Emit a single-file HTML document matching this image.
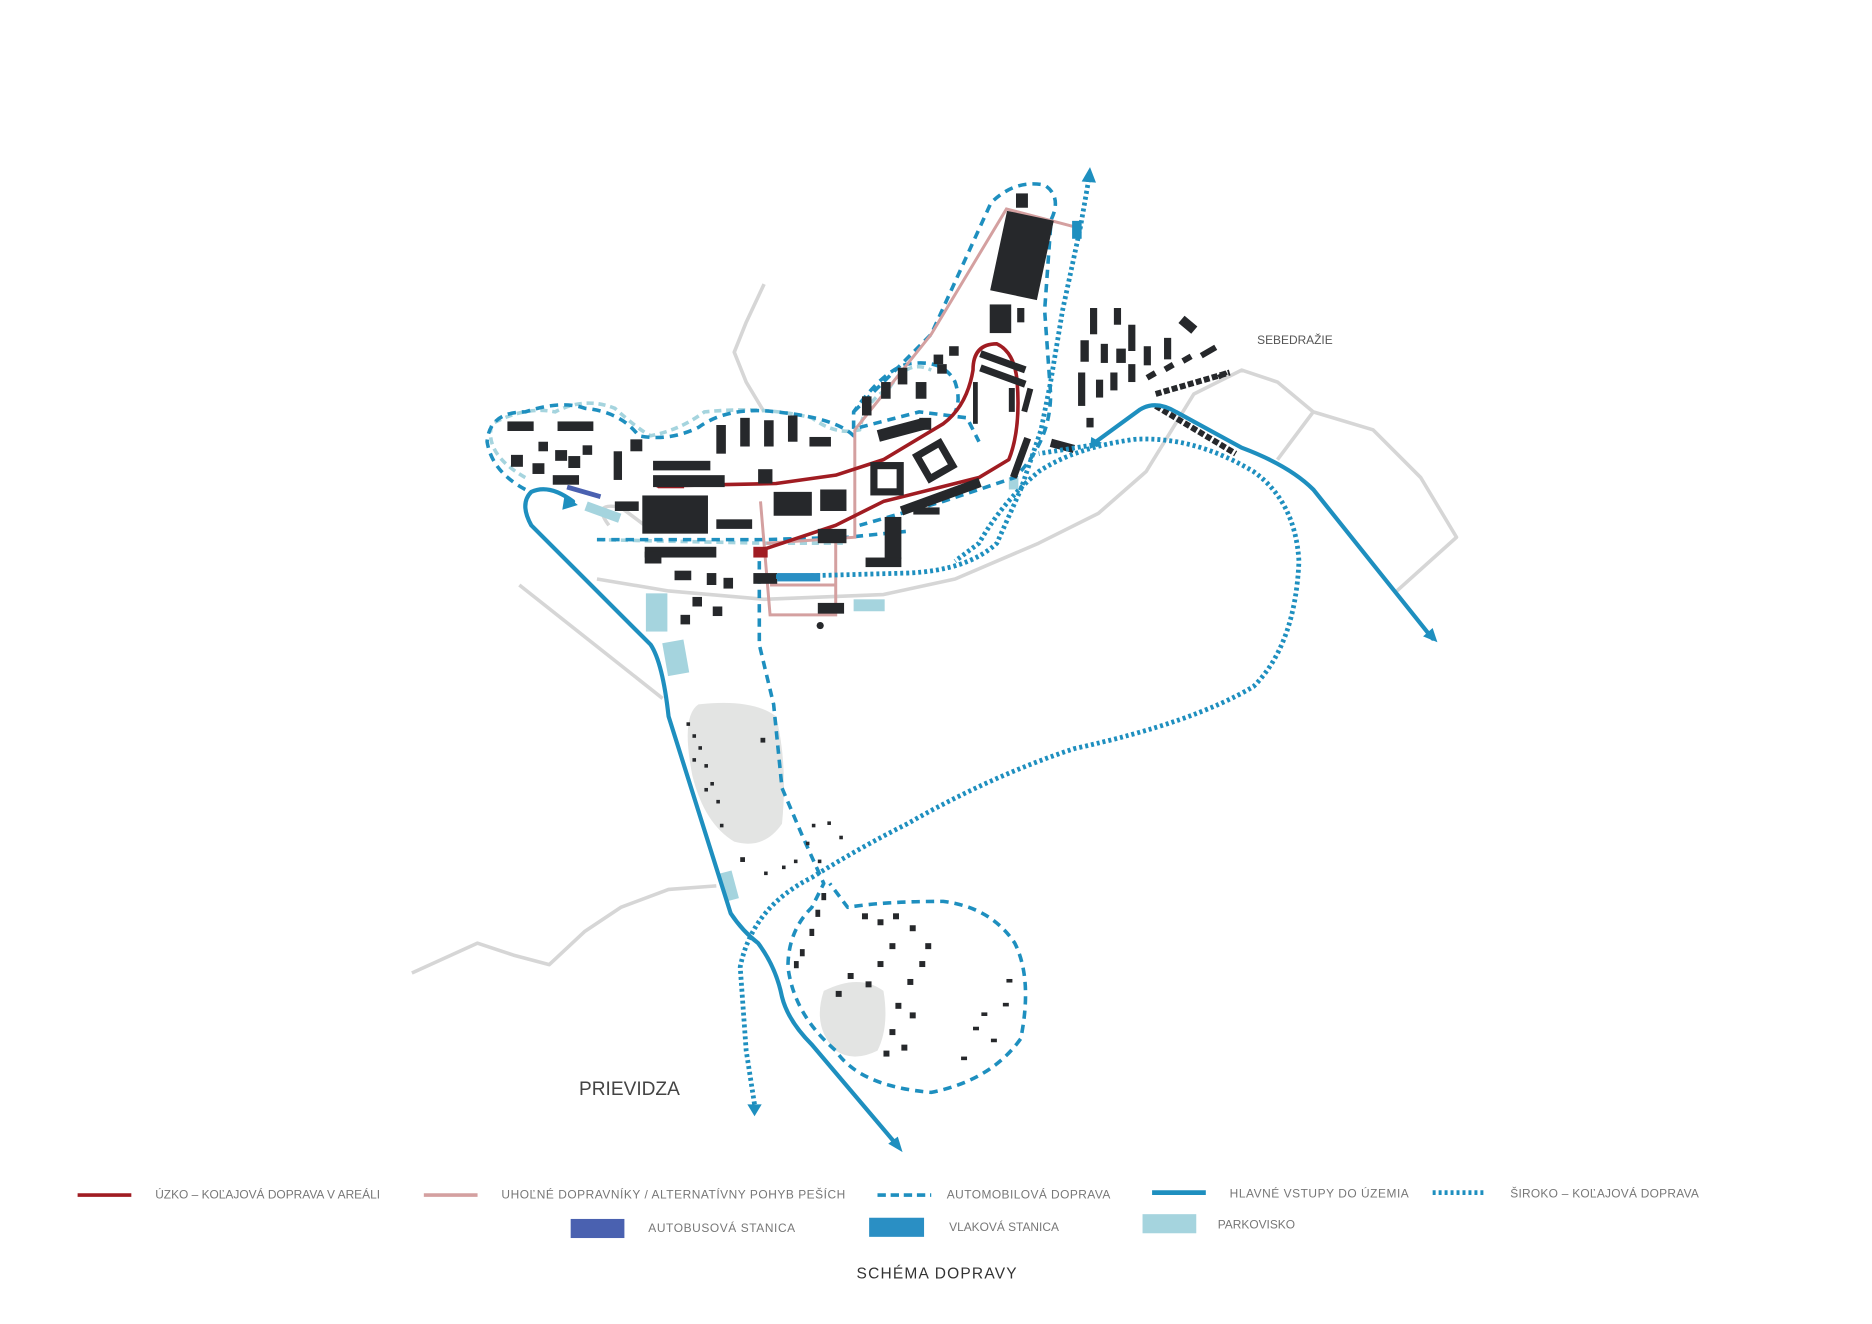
<!DOCTYPE html>
<html><head><meta charset="utf-8"><style>
html,body{margin:0;padding:0;background:#fff;}
svg{display:block;}
text{font-family:"Liberation Sans",sans-serif;}
</style></head><body>
<svg width="1872" height="1324" viewBox="0 0 1568 1109" xmlns="http://www.w3.org/2000/svg">
<rect width="1568" height="1109" fill="#fff"/>
<g fill="none" stroke="#d6d6d6" stroke-width="3" stroke-linejoin="round">
<path d="M345 815 L400 790 L430 800 L460 808 L490 780 L520 760 L560 745 L600 742"/>
<path d="M435 490 L555 585"/>
<path d="M500 485 L560 495 L640 502 L740 498 L800 485 L870 455 L920 430 L960 395 L1000 330 L1040 310 L1070 320 L1100 345 L1150 360 L1190 400 L1220 450 L1170 495"/>
<path d="M1070 385 L1100 345"/>
<path d="M640 238 L625 270 L615 295 L625 320 L640 345"/>
<path d="M510 440 Q495 420 520 425 L540 440"/>
</g>
<path d="M585 590 Q630 585 650 600 Q660 640 655 690 Q640 712 615 705 Q590 690 580 650 Q570 600 585 590Z" fill="#e3e4e3"/>
<path d="M690 830 Q720 815 740 830 Q745 860 735 880 Q715 890 700 880 Q680 860 690 830Z" fill="#e3e4e3"/>
<g fill="#a5d4de">
<rect x="541" y="497" width="18" height="32"/>
<rect x="557" y="537" width="18" height="28" transform="rotate(-10 566 551)"/>
<rect x="715" y="502" width="26" height="10"/>
<rect x="606" y="730" width="10" height="24" transform="rotate(-15 611 742)"/>
<rect x="490" y="425" width="30" height="8" transform="rotate(20 505 429)"/>
<rect x="845" y="400" width="8" height="10"/>
</g>
<g fill="none" stroke="#a5d4de" stroke-width="3" stroke-dasharray="6 4">
<path d="M440 400 Q405 380 412 355 Q440 340 465 345 Q490 332 515 342 Q535 360 545 365 Q570 360 590 345 Q640 340 680 350 Q700 365 720 360 Q725 335 745 325 Q760 300 780 310"/>
<path d="M500 452 L640 455 L710 455"/>
</g>
<g fill="none" stroke="#1e8fbf" stroke-width="3" stroke-dasharray="7 5" stroke-linejoin="round">
<path d="M440 410 Q412 395 408 370 Q410 345 440 345 Q470 335 490 342 Q520 345 535 365 Q560 370 585 358 Q610 340 650 345 Q700 350 715 365 L715 345 Q740 310 760 305 Q790 300 800 320 Q805 335 800 345"/>
<path d="M715 345 L780 280 L830 170 Q850 150 875 155 Q890 165 880 185"/>
<path d="M880 190 L875 260 L880 330 Q880 370 850 400 L790 420 L720 440"/>
<path d="M500 452 L640 452 L710 450 L760 445"/>
<path d="M720 358 L770 345 L810 350 L820 370"/>
<path d="M636 470 L636 540 L648 590 L655 660 L672 700 L690 740 L680 760 Q660 780 660 810 Q665 850 700 880 Q720 910 780 915 Q830 905 855 870 Q865 820 850 790 Q830 760 790 755 Q740 755 710 760 L695 740"/>
</g>
<g fill="none" stroke="#d4a0a0" stroke-width="2.5">
<path d="M716 360 L716 450 L642 455"/>
<path d="M716 360 L780 280 L843 175 L900 190"/>
<path d="M637 420 L645 515 L700 515 L700 450"/>
<path d="M645 490 L700 490"/>
</g>
<g fill="none" stroke="#a01c22" stroke-width="3" stroke-linejoin="round">
<path d="M550 407 L650 405 L700 398 L740 385 L790 355 Q810 340 815 310 Q815 288 835 288 Q850 295 852 320 Q855 360 845 385 L820 400 L740 420 L700 440 L640 460"/>
</g>
<rect x="551" y="402" width="22" height="7" fill="#a01c22"/>
<rect x="631" y="458" width="12" height="9" fill="#a01c22"/>
<g fill="#26282b">
<rect x="425" y="353" width="22" height="8"/><rect x="467" y="353" width="30" height="8"/>
<rect x="451" y="370" width="8" height="8"/><rect x="488" y="373" width="8" height="8"/>
<rect x="428" y="381" width="10" height="10"/><rect x="465" y="377" width="10" height="9"/>
<rect x="476" y="382" width="10" height="10"/><rect x="446" y="388" width="10" height="9"/>
<rect x="463" y="398" width="22" height="8"/><rect x="514" y="378" width="7" height="24"/>
<rect x="528" y="368" width="10" height="10"/>
<rect x="547" y="386" width="48" height="8"/><rect x="547" y="398" width="60" height="10"/>
<rect x="600" y="356" width="8" height="24"/><rect x="620" y="350" width="8" height="24"/>
<rect x="640" y="352" width="8" height="22"/><rect x="660" y="348" width="8" height="22"/>
<rect x="678" y="366" width="18" height="8"/>
<rect x="635" y="393" width="12" height="12"/>
<rect x="538" y="415" width="55" height="32"/>
<rect x="515" y="420" width="20" height="8"/>
<rect x="600" y="435" width="30" height="8"/>
<rect x="648" y="412" width="32" height="20"/><rect x="687" y="410" width="22" height="18"/>
<rect x="735" y="355" width="40" height="10" transform="rotate(-15 755 360)"/>
<rect x="722" y="332" width="8" height="16"/><rect x="738" y="320" width="8" height="14"/>
<rect x="752" y="308" width="8" height="14"/><rect x="767" y="320" width="9" height="14"/>
<rect x="782" y="297" width="8" height="8"/><rect x="795" y="290" width="8" height="8"/>
<rect x="785" y="305" width="8" height="8"/><rect x="770" y="350" width="10" height="10"/>
<rect x="732" y="390" width="22" height="22" fill="none" stroke="#26282b" stroke-width="6"/>
<rect x="772" y="375" width="22" height="22" fill="none" stroke="#26282b" stroke-width="6" transform="rotate(-30 783 386)"/>
<rect x="753" y="412" width="70" height="8" transform="rotate(-20 788 416)"/>
<rect x="765" y="425" width="22" height="6"/>
<rect x="741" y="433" width="14" height="35"/><rect x="725" y="467" width="30" height="8"/>
<rect x="685" y="443" width="24" height="12"/>
<rect x="540" y="458" width="60" height="9"/><rect x="540" y="462" width="14" height="10"/>
<rect x="565" y="478" width="14" height="8"/><rect x="592" y="480" width="8" height="10"/>
<rect x="606" y="484" width="8" height="9"/>
<rect x="631" y="480" width="20" height="9"/><rect x="685" y="505" width="22" height="9"/>
<rect x="580" y="500" width="8" height="8"/><rect x="597" y="508" width="8" height="8"/><rect x="570" y="515" width="8" height="8"/>
<rect x="851" y="162" width="10" height="12"/>
<rect x="836" y="180" width="40" height="68" transform="rotate(12 856 214)"/>
<rect x="829" y="255" width="18" height="24"/><rect x="852" y="258" width="6" height="12"/>
<rect x="820" y="300" width="40" height="6" transform="rotate(20 840 303)"/>
<rect x="820" y="312" width="40" height="6" transform="rotate(20 840 315)"/>
<rect x="815" y="320" width="4" height="35"/><rect x="845" y="325" width="5" height="20"/>
<rect x="852" y="366" width="6" height="35" transform="rotate(20 855 383)"/>
<rect x="858" y="325" width="5" height="20" transform="rotate(15 860 335)"/>
<rect x="880" y="370" width="20" height="7" transform="rotate(15 890 373)"/>
<rect x="913" y="258" width="6" height="22"/><rect x="933" y="258" width="6" height="14"/>
<rect x="945" y="272" width="6" height="22"/><rect x="905" y="285" width="7" height="18"/>
<rect x="922" y="288" width="6" height="16"/><rect x="935" y="292" width="8" height="12"/>
<rect x="958" y="290" width="6" height="16"/><rect x="975" y="283" width="6" height="18"/>
<rect x="988" y="268" width="14" height="8" transform="rotate(40 995 272)"/>
<rect x="903" y="312" width="6" height="28"/><rect x="918" y="318" width="6" height="15"/>
<rect x="930" y="312" width="6" height="15"/><rect x="945" y="305" width="6" height="15"/>
<rect x="910" y="350" width="6" height="8"/>
</g>
<g fill="#26282b">
<rect x="960" y="312" width="8" height="5" transform="rotate(-30 964 314)"/>
<rect x="975" y="305" width="8" height="5" transform="rotate(-30 979 307)"/>
<rect x="990" y="298" width="8" height="5" transform="rotate(-30 994 300)"/>
<rect x="1005" y="292" width="14" height="5" transform="rotate(-30 1012 294)"/>
<rect x="1020" y="312" width="8" height="4" transform="rotate(-30 1024 314)"/>
</g>
<g stroke="#26282b" stroke-width="5" stroke-dasharray="5 2" fill="none">
<path d="M968 340 L1035 380"/>
<path d="M968 330 L1030 312"/>
</g>
<g fill="#26282b">
<rect x="575" y="605" width="3" height="3"/><rect x="580" y="615" width="3" height="3"/><rect x="585" y="625" width="3" height="3"/>
<rect x="590" y="640" width="3" height="3"/><rect x="595" y="655" width="3" height="3"/><rect x="600" y="670" width="3" height="3"/>
<rect x="603" y="690" width="3" height="3"/><rect x="580" y="635" width="3" height="3"/><rect x="590" y="660" width="3" height="3"/>
<rect x="637" y="618" width="4" height="4"/><rect x="620" y="718" width="4" height="4"/>
<rect x="640" y="730" width="3" height="3"/><rect x="655" y="725" width="3" height="3"/><rect x="665" y="720" width="3" height="3"/>
<rect x="680" y="690" width="3" height="3"/><rect x="693" y="688" width="3" height="3"/><rect x="703" y="700" width="3" height="3"/>
<rect x="675" y="705" width="3" height="3"/><rect x="685" y="720" width="3" height="3"/>
<rect x="688" y="748" width="4" height="6"/><rect x="683" y="762" width="4" height="6"/><rect x="678" y="778" width="4" height="6"/>
<rect x="670" y="795" width="4" height="6"/><rect x="665" y="805" width="4" height="6"/>
<rect x="722" y="765" width="5" height="5"/><rect x="735" y="770" width="5" height="5"/><rect x="748" y="765" width="5" height="5"/>
<rect x="762" y="775" width="5" height="5"/><rect x="775" y="790" width="5" height="5"/><rect x="770" y="805" width="5" height="5"/>
<rect x="745" y="790" width="5" height="5"/><rect x="735" y="805" width="5" height="5"/><rect x="760" y="820" width="5" height="5"/>
<rect x="750" y="840" width="5" height="5"/><rect x="762" y="848" width="5" height="5"/><rect x="745" y="862" width="5" height="5"/>
<rect x="755" y="875" width="5" height="5"/><rect x="740" y="880" width="5" height="5"/><rect x="710" y="815" width="5" height="5"/>
<rect x="700" y="830" width="5" height="5"/><rect x="725" y="822" width="5" height="5"/>
<rect x="815" y="860" width="5" height="3"/><rect x="822" y="848" width="5" height="3"/><rect x="830" y="870" width="5" height="3"/>
<rect x="840" y="840" width="5" height="3"/><rect x="805" y="885" width="5" height="3"/><rect x="843" y="820" width="5" height="3"/>
<circle cx="687" cy="524" r="3"/>
</g>
<g fill="none" stroke="#1e8fbf" stroke-width="4" stroke-dasharray="2.5 2.5" stroke-linejoin="round">
<path d="M912 150 L905 190 L890 260 L880 320 L872 360 L855 410 L835 455 Q810 478 760 480 L650 483"/>
<path d="M632 925 L625 880 L620 810 Q630 760 680 735 Q720 710 760 690 Q830 650 900 627 Q1000 605 1050 575 Q1085 540 1088 470 Q1085 420 1050 395 Q1000 365 950 368 Q900 375 870 395 Q840 420 820 455 L800 470"/>
<path d="M920 372 L870 380"/>
</g>
<path d="M906 152 L913 140 L918 153Z" fill="#1e8fbf"/>
<path d="M626 925 L632 935 L638 925Z" fill="#1e8fbf"/>
<rect x="898" y="185" width="8" height="15" fill="#1e8fbf"/>
<rect x="651" y="480" width="36" height="7" fill="#2a8fc4"/>
<g fill="none" stroke="#1e8fbf" stroke-width="3.5" stroke-linejoin="round" stroke-linecap="round">
<path d="M480 420 Q460 405 445 412 Q435 422 445 440 L545 540 Q555 555 560 600 L612 765 Q622 780 635 790 Q650 810 655 835 Q660 855 680 875 L752 960"/>
<path d="M918 370 L955 343 Q968 335 985 345 L1040 375 Q1080 390 1100 410 L1200 535"/>
</g>
<path d="M473 414 L484 423 L471 427Z" fill="#1e8fbf"/>
<path d="M744 958 L756 965 L752 952Z" fill="#1e8fbf"/>
<path d="M1192 533 L1204 538 L1200 526Z" fill="#1e8fbf"/>
<path d="M914 366 L913 376 L923 371Z" fill="#1e8fbf"/>
<path d="M475 408 L503 416" stroke="#4a61b0" stroke-width="4"/>
<text x="1053" y="288" font-size="10" fill="#555">SEBEDRAŽIE</text>
<text x="485" y="917" font-size="16" fill="#444">PRIEVIDZA</text>
<g font-size="10" fill="#777">
<path d="M65 1001 L110 1001" stroke="#a01c22" stroke-width="3"/>
<text x="130" y="1004">ÚZKO – KOĽAJOVÁ DOPRAVA V AREÁLI</text>
<path d="M355 1001 L400 1001" stroke="#d4a0a0" stroke-width="3"/>
<text x="420" y="1004" textLength="288">UHOĽNÉ DOPRAVNÍKY / ALTERNATÍVNY POHYB PEŠÍCH</text>
<path d="M735 1001 L780 1001" stroke="#1e8fbf" stroke-width="3" stroke-dasharray="7 4"/>
<text x="793" y="1004" textLength="137">AUTOMOBILOVÁ DOPRAVA</text>
<path d="M965 999 L1010 999" stroke="#1e8fbf" stroke-width="4"/>
<text x="1030" y="1003" textLength="150">HLAVNÉ VSTUPY DO ÚZEMIA</text>
<path d="M1200 999 L1245 999" stroke="#1e8fbf" stroke-width="4" stroke-dasharray="2.5 2.5"/>
<text x="1265" y="1003" textLength="158">ŠIROKO – KOĽAJOVÁ DOPRAVA</text>
<rect x="478" y="1021" width="45" height="16" fill="#4a61b0"/>
<text x="543" y="1032" textLength="123">AUTOBUSOVÁ STANICA</text>
<rect x="728" y="1020" width="46" height="16" fill="#2a8fc4"/>
<text x="795" y="1031">VLAKOVÁ STANICA</text>
<rect x="957" y="1017" width="45" height="16" fill="#a5d4de"/>
<text x="1020" y="1029">PARKOVISKO</text>
</g>
<text x="785" y="1071" font-size="13" fill="#333" text-anchor="middle" letter-spacing="1">SCHÉMA DOPRAVY</text>
</svg>
</body></html>
